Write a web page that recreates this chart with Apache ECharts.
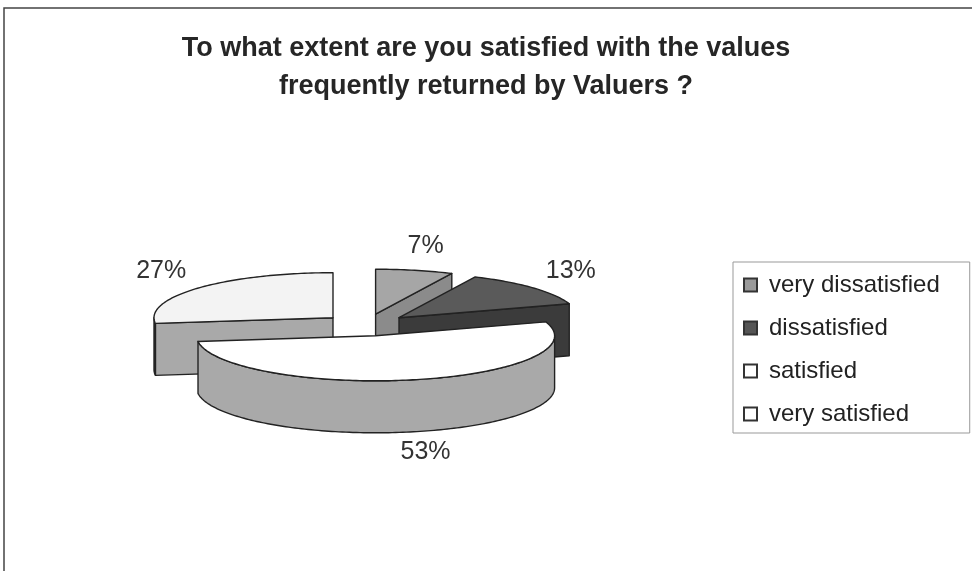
<!DOCTYPE html>
<html>
<head>
<meta charset="utf-8">
<title>Satisfaction with values returned by Valuers</title>
<script src="https://cdn.jsdelivr.net/npm/echarts@6/dist/echarts.min.js"></script>
<style>
  html, body { margin: 0; padding: 0; background: #fff; }
  #main { width: 972px; height: 571px; }
</style>
</head>
<body>
<div id="main"></div>
<script>
// data
var categories = ["very dissatisfied", "dissatisfied", "satisfied", "very satisfied"];
var values = [7, 13, 53, 27];

// look
var topColors = ["#a6a6a6", "#5a5a5a", "#ffffff", "#f3f3f3"];
var sideColors = ["#8b8b8b", "#3b3b3b", "#a9a9a9", "#a9a9a9"];
var legendColors = ["#9a9a9a", "#555555", "#ffffff", "#ffffff"];

// 3d pie geometry (pixels)
var CX = 366, CY = 325, RX = 179, RY = 45, DEPTH = 52, EXPLODE = 44;

var myChart = echarts.init(document.getElementById("main"));

function total() {
  var t = 0;
  for (var k = 0; k < values.length; k++) t += values[k];
  return t;
}

function drawSlice(params, api) {
  var i = params.seriesIndex;
  var before = 0;
  for (var k = 0; k < i; k++) before += values[k];
  var v = api.value(0);
  var sum = total();
  var s = before / sum * 2 * Math.PI;
  var e = (before + v) / sum * 2 * Math.PI;
  var m = (s + e) / 2;
  // slice apex, pushed out along its middle
  var ax = CX + EXPLODE * Math.sin(m);
  var ay = CY - EXPLODE * RY / RX * Math.cos(m);

  function pt(t, dz) {
    return [ax + RX * Math.sin(t), ay - RY * Math.cos(t) + (dz || 0)];
  }
  function arc(a0, a1, dz) {
    var n = Math.max(2, Math.ceil(Math.abs(a1 - a0) / 0.02));
    var out = [];
    for (var j = 0; j <= n; j++) out.push(pt(a0 + (a1 - a0) * j / n, dz));
    return out;
  }
  var base = Math.round(ay * 10);
  var edge = { stroke: "#222222", lineWidth: 1.4, lineJoin: "round" };
  var children = [];

  function wall(t) {
    var r = pt(t, 0);
    return {
      type: "polygon", z2: base,
      shape: { points: [[ax, ay], r, [r[0], r[1] + DEPTH], [ax, ay + DEPTH]] },
      style: Object.assign({ fill: sideColors[i] }, edge)
    };
  }
  // radial walls facing the viewer
  if (Math.sin(s) < -1e-6) children.push(wall(s));
  if (Math.sin(e) > 1e-6) children.push(wall(e));
  // outer curved wall (front half only)
  var w0 = Math.max(s, Math.PI / 2), w1 = Math.min(e, 3 * Math.PI / 2);
  if (w1 > w0) {
    var pts = arc(w0, w1, 0).concat(arc(w0, w1, DEPTH).reverse());
    children.push({
      type: "polygon", z2: base + 1,
      shape: { points: pts },
      style: Object.assign({ fill: sideColors[i] }, edge)
    });
  }
  // top face
  children.push({
    type: "polygon", z2: base + 2,
    shape: { points: [[ax, ay]].concat(arc(s, e, 0)) },
    style: Object.assign({ fill: topColors[i] }, edge)
  });
  // percentage label
  var lx = ax + (RX + 50) * Math.sin(m);
  var ly = ay - (RY + 25) * Math.cos(m) + (Math.cos(m) < 0 ? DEPTH - 4 : 0);
  children.push({
    type: "text", z2: 100000,
    x: lx, y: ly,
    style: {
      text: Math.round(v / sum * 100) + "%",
      fill: "#333333",
      font: "25px 'Liberation Sans', Arial, sans-serif",
      align: "center", verticalAlign: "middle"
    }
  });
  return { type: "group", children: children };
}

var series = [];
for (var i = 0; i < categories.length; i++) {
  series.push({
    name: categories[i],
    type: "custom",
    coordinateSystem: "none",
    renderItem: drawSlice,
    itemStyle: { color: legendColors[i], borderColor: "#333", borderWidth: 1 },
    data: [values[i]]
  });
}

var option = {
  backgroundColor: "#ffffff",
  animation: false,
  title: {
    text: "To what extent are you satisfied with the values\nfrequently returned by Valuers ?",
    left: "center",
    top: 25,
    textStyle: {
      fontFamily: "'Liberation Sans', Arial, sans-serif",
      fontSize: 27,
      fontWeight: "bold",
      color: "#262626",
      lineHeight: 38
    }
  },
  legend: {
    orient: "vertical",
    left: 733,
    top: 262,
    data: categories,
    icon: "rect",
    itemWidth: 13,
    itemHeight: 13,
    itemGap: 19,
    padding: [11, 30, 7, 10],
    borderColor: "#999",
    borderWidth: 1,
    textStyle: {
      fontFamily: "'Liberation Sans', Arial, sans-serif",
      fontSize: 24,
      color: "#222",
      padding: [0, 0, 0, 7]
    }
  },
  graphic: [
    {
      type: "rect",
      shape: { x: 4, y: 8, width: 1000, height: 600 },
      style: { fill: null, stroke: "#444", lineWidth: 1.5 },
      silent: true
    }
  ],
  series: series
};

myChart.setOption(option);
</script>
</body>
</html>
